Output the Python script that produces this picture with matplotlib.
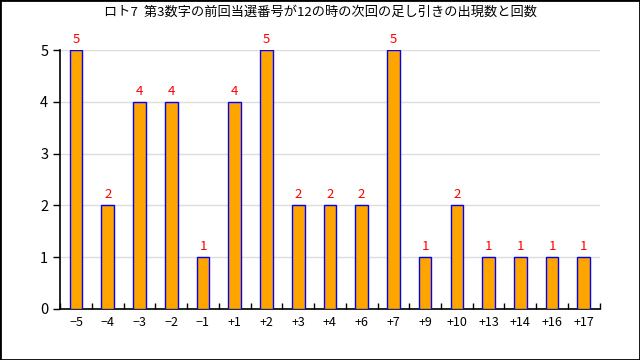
import matplotlib
matplotlib.use('Agg')
import matplotlib.pyplot as plt
import numpy as np

plt.rcParams['font.family'] = ['Noto Sans CJK JP', 'DejaVu Sans']

labels = ['−5', '−4', '−3', '−2', '−1', '+1', '+2', '+3', '+4', '+6', '+7',
          '+9', '+10', '+13', '+14', '+16', '+17']
counts = [5, 2, 4, 4, 1, 4, 5, 2, 2, 2, 5, 1, 2, 1, 1, 1, 1]

title = 'ロト7  第3数字の前回当選番号が12の時の次回の足し引きの出現数と回数'

fig = plt.figure(figsize=(6.4, 3.6), dpi=100)
fig.patches.append(plt.Rectangle((0, 0), 1, 1, transform=fig.transFigure,
                                 fill=False, edgecolor='black', linewidth=2))
ax = fig.add_axes([0.094, 0.142, 0.843, 0.719])

x = np.arange(len(counts))
ax.bar(x, counts, width=0.4, color='orange', edgecolor='blue', linewidth=1, zorder=3)
for xi, c in zip(x, counts):
    ax.text(xi, c + 0.08, str(c), color='red', ha='center', va='bottom', fontsize=9.5)

ax.set_xlim(-0.5, len(counts) - 0.5)
ax.set_ylim(0, 5)
ax.set_yticks(range(6))
ax.yaxis.grid(True, color='#dddddd', linewidth=1, zorder=0)
ax.set_xticks(x)
ax.set_xticklabels(labels, fontsize=9)
ax.tick_params(axis='x', length=0, pad=5)
ax.set_xticks(np.arange(-0.5, len(counts), 1), minor=True)
ax.tick_params(axis='x', which='minor', direction='in', length=4, width=1)
ax.tick_params(axis='y', labelsize=10.5, length=5, width=1)
for s in ['top', 'right']:
    ax.spines[s].set_visible(False)
ax.spines['left'].set_linewidth(1.2)
ax.spines['bottom'].set_linewidth(1.2)

fig.text(0.5, 0.965, title, ha='center', va='center', fontsize=9.5)

fig.savefig('out.png', dpi=100)
